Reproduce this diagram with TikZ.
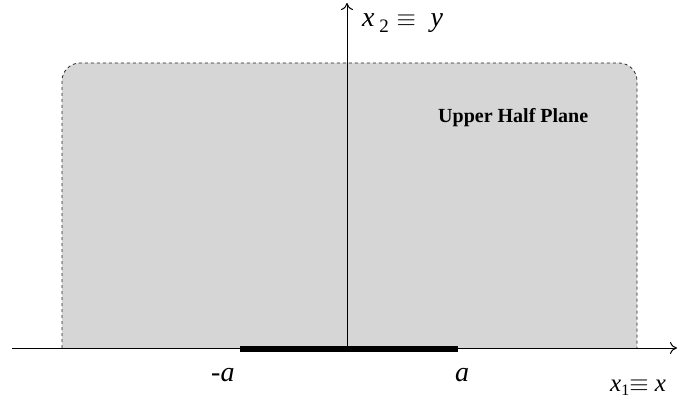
\documentclass[tikz,border=0pt]{standalone}
\usepackage{fontspec}
\setmainfont{Liberation Serif}
\usetikzlibrary{arrows.meta,positioning}
\begin{document}
\begin{tikzpicture}[x=1pt,y=-1pt,
lbl/.style={font=\fontsize{28}{30}\selectfont\itshape,inner sep=0pt,anchor=base west},
axis/.style={-{To[length=7pt,width=12pt]},line width=1pt},
halfplane/.style={dashed,fill=black!16,draw=black!85,line width=0.8pt,rounded corners=18pt}]
    \useasboundingbox (0,0) rectangle (680,401);
    % Shaded half plane
    \draw[halfplane] (62,348) -- (62,63) -- (637,63) -- (637,348);

    % Draw axes
    \coordinate (xstart) at (12,348);
    \coordinate (xend) at (677,348);
    \coordinate (origin) at (347,348);
    \coordinate (yend) at (347,3);
    \draw[axis] (xstart) -- (xend);
    \draw[axis] (origin) -- (yend);

    % The cut from -a to a
    \coordinate (cutL) at (240,349);
    \coordinate (cutR) at (458,349);
    \draw[line width=6.5pt] (cutL) -- (cutR);

    \node[lbl] (ylabel) at (362,27) {x\,\raisebox{-6pt}{\fontsize{19}{20}\selectfont\upshape 2}\;$\equiv$\; y};
    \node[lbl,font=\fontsize{25}{27}\selectfont\itshape] (xlabel) at (610,391) {x\raisebox{-4pt}{\fontsize{16}{18}\selectfont\upshape 1}$\equiv$ x};
    \node[lbl] (minusa) at (211,381) {-a};
    \node[lbl] (plusa) at (455,381) {a};
    \node[font=\fontsize{20}{22}\selectfont\bfseries,inner sep=0pt,anchor=base west] (uhp) at (438,123) {Upper Half Plane};
\end{tikzpicture}
\end{document}
